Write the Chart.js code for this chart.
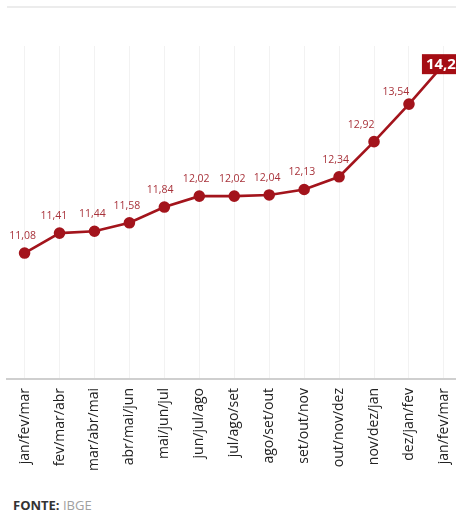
<!doctype html>
<html>
<head>
  <meta charset="utf-8">
  <script src="https://cdn.jsdelivr.net/npm/chart.js@4/dist/chart.umd.min.js"></script>
  <style>
    html, body { margin: 0; padding: 0; background: #fff; overflow: hidden; width: 456px; height: 513px; }
    #topline { position: absolute; left: 7px; top: 6px; width: 460px; height: 2px; background: #ececec; }
    #wrap { position: absolute; left: 0; top: 0; width: 470px; height: 480px; }
    #fonte { position: absolute; left: 13px; top: 499px; font: 13px/13px "Open Sans", sans-serif; color: #a0a0a0; }
    #fonte b { color: #333; }
  </style>
</head>
<body>
  <div id="topline"></div>
  <div id="wrap"><canvas id="c"></canvas></div>
  <div id="fonte"><b>FONTE:</b> IBGE</div>
  <script>
    const periods = ['jan/fev/mar', 'fev/mar/abr', 'mar/abr/mai', 'abr/mai/jun', 'mai/jun/jul', 'jun/jul/ago',
      'jul/ago/set', 'ago/set/out', 'set/out/nov', 'out/nov/dez', 'nov/dez/jan', 'dez/jan/fev', 'jan/fev/mar'];
    const rates = [11.08, 11.41, 11.44, 11.58, 11.84, 12.02, 12.02, 12.04, 12.13, 12.34, 12.92, 13.54, 14.2];
    const red = '#a3141c';

    const fmt = v => v.toFixed(2).replace(/0$/, '').replace('.', ',');

    // simple value labels (no datalabels plugin available offline)
    const valueLabels = {
      id: 'valueLabels',
      afterDatasetsDraw(chart) {
        const ctx = chart.ctx;
        const pts = chart.getDatasetMeta(0).data;
        ctx.save();
        pts.forEach((p, i) => {
          const v = rates[i];
          if (i === pts.length - 1) {
            ctx.font = 'bold 15px "Open Sans", sans-serif';
            const t = fmt(v);
            const w = ctx.measureText(t).width + 12;
            ctx.fillStyle = '#a50d14';
            ctx.fillRect(p.x - 22, p.y - 10, w, 20);
            ctx.fillStyle = '#fff';
            ctx.textAlign = 'left';
            ctx.textBaseline = 'middle';
            ctx.fillText(t, p.x - 18, p.y + 0.5);
            return;
          }
          // push label up-left where the line coming in is steep
          const prev = i > 0 ? pts[i - 1] : p;
          const s = Math.max(0, (prev.y - p.y) / 35);
          const dx = -2 - 11 * Math.min(1, s * s);
          const dy = s > 1.04 ? -12 : -17;
          ctx.font = '10.5px "Open Sans", sans-serif';
          ctx.fillStyle = '#a8323a';
          ctx.textAlign = 'center';
          ctx.textBaseline = 'middle';
          ctx.fillText(fmt(v), p.x + dx, p.y + dy);
        });
        ctx.restore();
      }
    };

    new Chart(document.getElementById('c'), {
      type: 'line',
      data: {
        labels: periods,
        datasets: [{
          data: rates,
          borderColor: red,
          backgroundColor: red,
          borderWidth: 2.6,
          pointRadius: 4.5,
          pointBackgroundColor: red,
          pointBorderColor: red,
          tension: 0
        }]
      },
      options: {
        responsive: true,
        maintainAspectRatio: false,
        animation: false,
        layout: { padding: { top: 46, left: 5, right: 0, bottom: 0 } },
        plugins: { legend: { display: false }, tooltip: { enabled: false } },
        scales: {
          y: { display: false, min: 9, max: 14.5 },
          x: {
            offset: true,
            grid: { color: '#f2f2f2', lineWidth: 1, drawTicks: false, offset: false },
            border: { display: true, color: '#cfcfcf', width: 2 },
            ticks: {
              autoSkip: false, maxRotation: 90, minRotation: 90, padding: 9,
              color: '#222', font: { family: 'Open Sans', size: 14 }
            },
            afterFit(scale) { scale.height = 101; }
          }
        }
      },
      plugins: [valueLabels]
    });
  </script>
</body>
</html>
